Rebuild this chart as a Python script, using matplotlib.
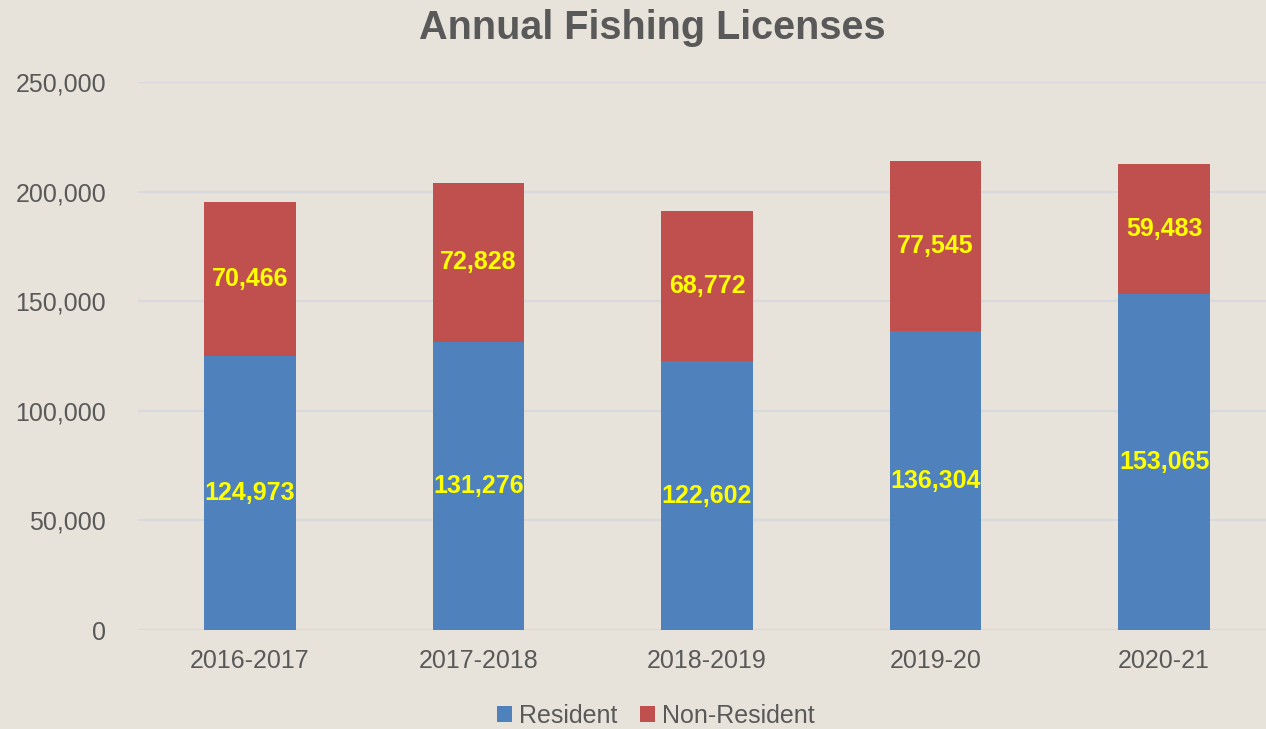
import matplotlib.pyplot as plt
import numpy as np

plt.rcParams['font.family'] = ['Liberation Sans', 'DejaVu Sans']

seasons = ["2016-2017", "2017-2018", "2018-2019", "2019-20", "2020-21"]
resident = [124973, 131276, 122602, 136304, 153065]
non_resident = [70466, 72828, 68772, 77545, 59483]

bg = "#e7e3da"
blue = "#4f81bd"
red = "#c0504d"
grey = "#595959"

fig = plt.figure(figsize=(12.66, 7.29), dpi=100, facecolor=bg)
ax = fig.add_axes([0.109, 0.1358, 0.891, 0.7517])
ax.set_facecolor(bg)

x = np.arange(len(seasons))
b1 = ax.bar(x, resident, width=0.4, color=blue, label="Resident", zorder=3)
b2 = ax.bar(x, non_resident, width=0.4, bottom=resident, color=red,
            label="Non-Resident", zorder=3)

for i in range(len(seasons)):
    ax.text(x[i], resident[i] / 2, f"{resident[i]:,}", ha="center", va="center",
            color="#ffff00", fontsize=18, fontweight="bold", zorder=4)
    ax.text(x[i], resident[i] + non_resident[i] / 2, f"{non_resident[i]:,}",
            ha="center", va="center", color="#ffff00", fontsize=18,
            fontweight="bold", zorder=4)

ax.set_ylim(0, 250000)
ax.set_xlim(-0.49, 4.446)
ax.set_yticks(range(0, 250001, 50000))
ax.set_yticklabels([f"{v:,}" for v in range(0, 250001, 50000)])
ax.set_xticks(x)
ax.set_xticklabels(seasons)
ax.tick_params(axis="both", length=0, labelsize=18, labelcolor=grey)
ax.tick_params(axis="y", pad=23)
ax.tick_params(axis="x", pad=14)
ax.yaxis.grid(True, color="#d8d9de", linewidth=1.5, zorder=0)
for s in ax.spines.values():
    s.set_visible(False)

fig.text(0.515, 0.962, "Annual Fishing Licenses", ha="center", va="center",
         fontsize=28.5, fontweight="bold", color=grey)

fig.legend(handles=[b1, b2], loc="center", bbox_to_anchor=(0.518, 0.018),
           ncol=2, frameon=False, fontsize=18, labelcolor=grey,
           handlelength=0.6, handleheight=0.6, handletextpad=0.3,
           columnspacing=0.9)

fig.savefig("out.png", dpi=100, facecolor=bg)
